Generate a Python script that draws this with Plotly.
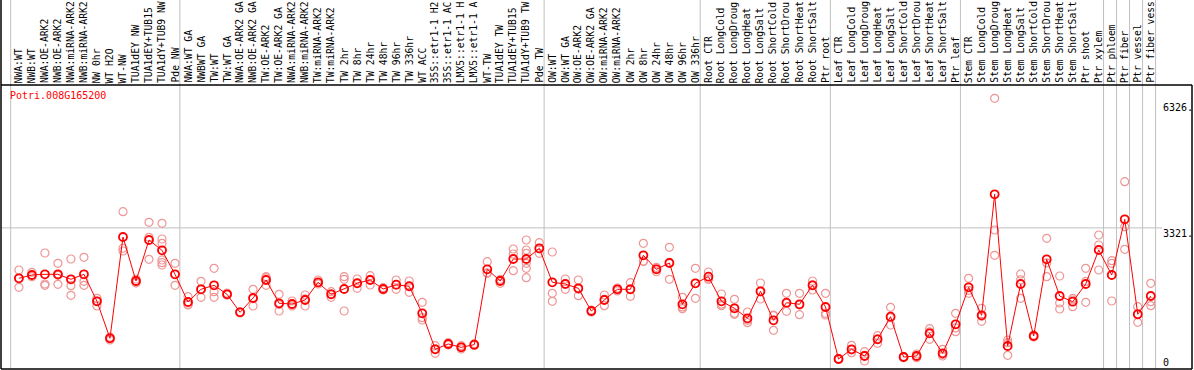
import plotly.graph_objects as go

gene = "Potri.008G165200"

group_sizes = [13, 28, 12, 10, 10, 11, 1, 1, 1, 1]

# sample labels as displayed (the source chart truncates labels to 14 characters)
samples = [
    "NWA:WT", "NWB:WT", "NWA:OE-ARK2", "NWB:OE-ARK2", "NWA:miRNA-ARK2", "NWB:miRNA-ARK2",
    "NW 0hr", "WT H2O", "WT-NW", "TUA1dEY NW", "TUA1dEY+TUB15", "TUA1dY+TUB9 NW", "Pde NW",
    "NWA:WT GA", "NWBWT GA", "TW:WT", "TW:WT GA", "NWA:OE-ARK2 GA", "NWB:OE-ARK2 GA",
    "TW:OE-ARK2", "TW:OE-ARK2 GA", "NWA:miRNA-ARK2", "NWB:miRNA-ARK2", "TW:miRNA-ARK2",
    "TW:miRNA-ARK2", "TW 2hr", "TW 8hr", "TW 24hr", "TW 48hr", "TW 96hr", "TW 336hr",
    "WT ACC", "35S::etr1-1 H2", "35S::etr1-1 AC", "LMX5::etr1-1 H", "LMX5::etr1-1 A",
    "WT-TW", "TUA1dEY TW", "TUA1dEY+TUB15", "TUA1dY+TUB9 TW", "Pde TW",
    "OW:WT", "OW:WT GA", "OW:OE-ARK2", "OW:OE-ARK2 GA", "OW:miRNA-ARK2", "OW:miRNA-ARK2",
    "OW 2hr", "OW 8hr", "OW 24hr", "OW 48hr", "OW 96hr", "OW 336hr",
    "Root CTR", "Root LongCold", "Root LongDroug", "Root LongHeat", "Root LongSalt",
    "Root ShortCold", "Root ShortDrou", "Root ShortHeat", "Root ShortSalt", "Ptr root",
    "Leaf CTR", "Leaf LongCold", "Leaf LongDroug", "Leaf LongHeat", "Leaf LongSalt",
    "Leaf ShortCold", "Leaf ShortDrou", "Leaf ShortHeat", "Leaf ShortSalt", "Ptr leaf",
    "Stem CTR", "Stem LongCold", "Stem LongDroug", "Stem LongHeat", "Stem LongSalt",
    "Stem ShortCold", "Stem ShortDrou", "Stem ShortHeat", "Stem ShortSalt", "Ptr shoot",
    "Ptr xylem",
    "Ptr phloem", "Ptr fiber", "Ptr vessel", "Ptr fiber vess",
]

means = [
    2156, 2232, 2248, 2248, 2133, 2248, 1625, 769, 3111, 2094, 3041, 2803, 2248,
    1608, 1902, 1994, 1786, 1370, 1701, 2117, 1578, 1562, 1655, 2064, 1786, 1909,
    2041, 2117, 1909, 2008, 1971, 1347, 515, 638, 561, 622, 2364, 2094, 2602, 2602,
    2849,
    2064, 2024, 1925, 1400, 1655, 1902, 1902, 2688, 2364, 2510, 1555, 2041,
    2193, 1625, 1463, 1232, 1856, 1185, 1592, 1555, 1994, 1493,
    291, 515, 360, 746, 1269, 337, 360, 885, 423, 1093,
    1948, 1301, 4097, 592, 2024, 823, 2595, 1747, 1615, 2024, 2810,
    2232, 3519, 1324, 1747,
]

replicates = [
    [2348, 1948, 2156], [2295, 2193, 2232], [2741, 2024, 1994], [2503, 2017, 2224],
    [2602, 1985, 1763], [2641, 2087, 1994], [1694, 1516, 1625], [776, 799, 730],
    [3695, 2787, 2851], [2094, 2050, 2140], [3450, 3104, 2595],
    [3427, 3064, 2965, 2579, 2517, 2463], [2503, 1994, 2247],
    [1731, 1539, 1554], [2087, 1717, 1902], [2387, 1846, 1717], [1786, 1816, 1770],
    [1370, 1380, 1360], [1902, 1516, 1685], [2193, 1994, 2164], [1786, 1400, 1548],
    [1631, 1516, 1539], [1770, 1516, 1679], [2117, 2024, 2051], [1846, 1717, 1795],
    [2193, 2133, 1400], [2140, 1925, 2058], [2216, 2001, 2134], [1939, 1886, 1902],
    [2117, 1902, 2005], [2094, 1833, 1986], [1601, 1246, 1192], [598, 423, 524],
    [668, 615, 638], [598, 522, 568], [622, 640, 605], [2540, 2272, 2280],
    [2133, 2041, 2108], [2833, 2718, 2332], [3041, 2810, 2734, 2503, 2387, 2170],
    [2979, 2734, 2834],
    [2764, 1809, 1625], [2140, 1902, 2030], [2117, 1754, 1904], [1400, 1420, 1380],
    [1770, 1523, 1672], [1902, 1863, 1932], [2054, 1740, 1912], [2965, 2556, 2543],
    [2410, 2308, 2374], [2872, 2133, 2525], [1717, 1454, 1494], [2387, 1694, 2042],
    [2302, 2140, 2137], [1793, 1523, 1559], [1671, 1347, 1324], [1377, 1130, 1189],
    [2047, 1678, 1843], [1308, 954, 1293], [1809, 1393, 1574], [1809, 1315, 1541],
    [2094, 1886, 2002], [1809, 1347, 1308],
    [291, 280, 305], [608, 437, 500], [460, 245, 375], [830, 654, 754], [1486, 1077, 1244],
    [337, 320, 354], [407, 321, 360], [991, 746, 918], [515, 360, 394], [1347, 922, 1010],
    [2156, 1809, 1879], [1463, 1162, 1278], [6316, 3272, 2688], [730, 377, 669],
    [2255, 1694, 2123], [846, 800, 823], [3080, 2193, 2512], [2209, 1447, 1585],
    [1655, 1500, 1690], [2387, 1601, 2084], [3157, 2926, 2348],
    [2563, 2503, 1631], [4389, 3349, 2826], [1500, 1139, 1333], [2041, 1615, 1523],
]

ytick_vals = [6326, 3321, 0]
ytick_text = ["6326.", "3321.", "0"]
grid_value = 3321

# ---- layout geometry ----
W, H = 1194, 370
L, R, T, B = 1, 2, 85, 1
plot_w = W - L - R
plot_h = H - T - B
col_px = 13.01
first_px = 10.7 - L  # pixel offset (within plot) of the first column boundary
x0 = -first_px / col_px
x1 = x0 + plot_w / col_px
y_bottom, y_top = 60, 60 + plot_h * 23.11
PT_OFF = 0.63
LBL_OFF = 0.63

xs = [i + PT_OFF for i in range(len(samples))]
rx, ry = [], []
for i, reps in enumerate(replicates):
    for v in reps:
        rx.append(xs[i])
        ry.append(v)


def py(pix):  # pixel y -> paper
    return (H - B - pix) / plot_h


def px(pix):
    return (pix - L) / plot_w


mono = "DejaVu Sans Mono"
fig = go.Figure()
fig.add_trace(go.Scatter(
    x=rx, y=ry, mode="markers",
    marker=dict(symbol="circle-open", size=8, color="rgb(238,150,150)",
                line=dict(width=1.2, color="rgb(238,150,150)")),
    hoverinfo="skip", showlegend=False))
fig.add_trace(go.Scatter(
    x=xs, y=means, mode="lines+markers",
    line=dict(color="red", width=1),
    marker=dict(symbol="circle-open", size=8, color="red",
                line=dict(width=1.8, color="red")),
    showlegend=False))

shapes = []
bounds = [0]
for g in group_sizes:
    bounds.append(bounds[-1] + g)
for bx in bounds:
    shapes.append(dict(type="line", xref="x", yref="paper", x0=bx, x1=bx,
                       y0=0, y1=py(0), line=dict(color="#c0c0c0", width=1), layer="below"))
shapes.append(dict(type="line", xref="paper", yref="y", x0=0, x1=px(1162),
                   y0=grid_value, y1=grid_value, line=dict(color="#c0c0c0", width=1), layer="below"))
blk = dict(color="black", width=1.5)
shapes.append(dict(type="line", xref="paper", yref="paper", x0=0, x1=1.0, y0=1, y1=1, line=blk))
shapes.append(dict(type="line", xref="paper", yref="paper", x0=0, x1=1.0, y0=0, y1=0, line=blk))
shapes.append(dict(type="line", xref="paper", yref="paper", x0=0, x1=0, y0=0, y1=py(0), line=blk))
shapes.append(dict(type="line", xref="paper", yref="paper", x0=1, x1=1, y0=0, y1=1, line=blk))

annotations = []
for i, s in enumerate(samples):
    annotations.append(dict(x=i + LBL_OFF, y=py(84), xref="x", yref="paper", text=s,
                            textangle=-90, showarrow=False, xanchor="center", yanchor="bottom",
                            borderpad=0,
                            font=dict(family=mono, size=9.7, color="black")))
annotations.append(dict(x=px(9), y=py(96), xref="paper", yref="paper", text=gene,
                        showarrow=False, xanchor="left", yanchor="middle", borderpad=0,
                        font=dict(family=mono, size=10, color="red")))
for v, t, pyy in zip(ytick_vals, ytick_text, [107, 233, 362]):
    annotations.append(dict(x=px(1162), y=py(pyy), xref="paper", yref="paper", text=t,
                            showarrow=False, xanchor="left", yanchor="middle", borderpad=0,
                            font=dict(family=mono, size=10, color="black")))

fig.update_layout(
    width=W, height=H,
    margin=dict(l=L, r=R, t=T, b=B, pad=0),
    paper_bgcolor="white", plot_bgcolor="white",
    xaxis=dict(range=[x0, x1], showgrid=False, zeroline=False, showticklabels=False,
               ticks="", showline=False),
    yaxis=dict(range=[y_bottom, y_top], showgrid=False, zeroline=False, showticklabels=False,
               ticks="", showline=False),
    shapes=shapes, annotations=annotations,
)
fig.write_html("out.html", config={"displayModeBar": False},
               post_script="document.body.style.margin='0';document.body.style.overflow='hidden';")
